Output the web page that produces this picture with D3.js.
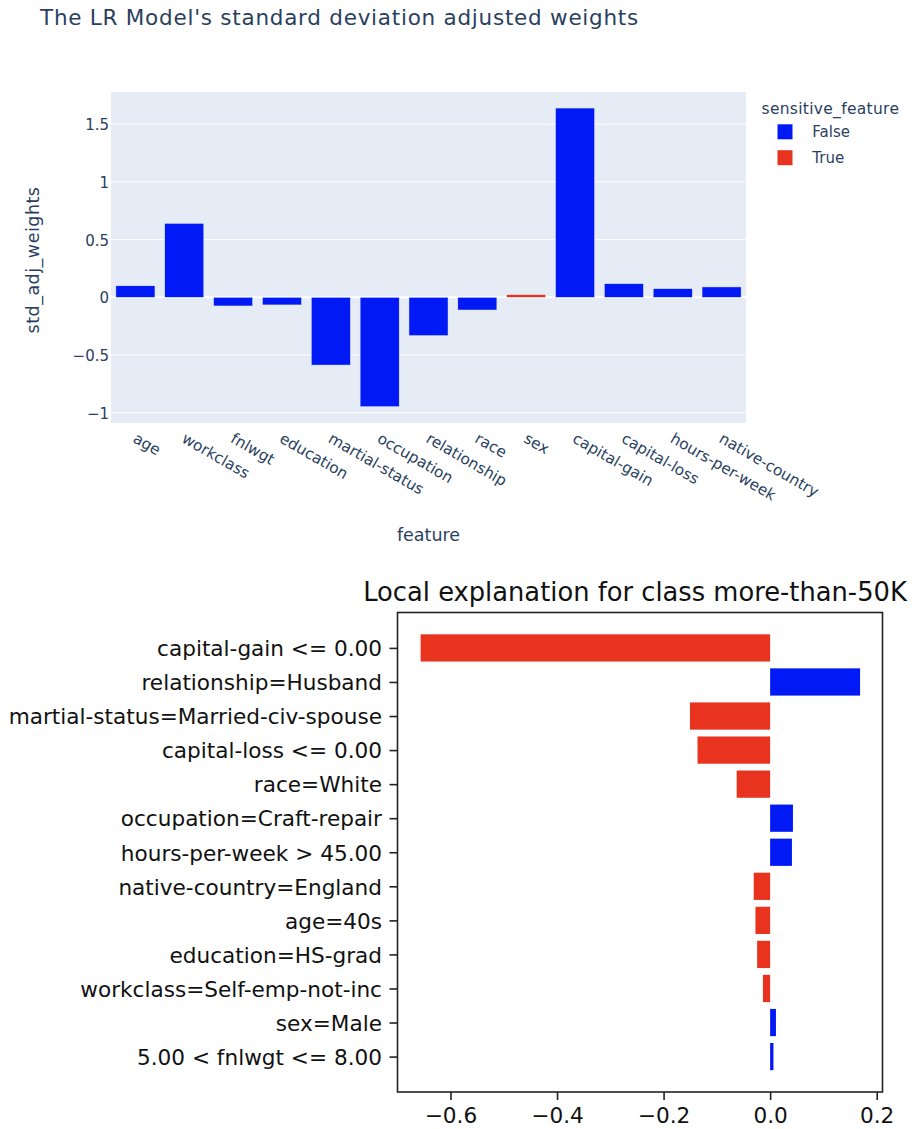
<!DOCTYPE html>
<html>
<head>
<meta charset="utf-8">
<script src="https://cdn.jsdelivr.net/npm/d3@7"></script>
<style>
  html, body { margin: 0; padding: 0; background: #fff; }
  svg { display: block; }
</style>
</head>
<body>
<svg id="chart" width="915" height="1129"></svg>
<script>
// ---------- Top chart data ----------
const features = ["age","workclass","fnlwgt","education","martial-status","occupation","relationship","race","sex","capital-gain","capital-loss","hours-per-week","native-country"];
const stdAdjWeights = [0.100, 0.641, -0.075, -0.066, -0.587, -0.948, -0.332, -0.110, 0.023, 1.640, 0.118, 0.075, 0.090];
const sensitiveFeature = [false, false, false, false, false, false, false, false, true, false, false, false, false];
const yTickValues = [-1, -0.5, 0, 0.5, 1, 1.5];
const yTickLabels = ["\u22121", "\u22120.5", "0", "0.5", "1", "1.5"];
const legendKeys = ["False", "True"];

// ---------- Bottom chart data ----------
const rules = ["capital-gain <= 0.00","relationship=Husband","martial-status=Married-civ-spouse","capital-loss <= 0.00","race=White","occupation=Craft-repair","hours-per-week > 45.00","native-country=England","age=40s","education=HS-grad","workclass=Self-emp-not-inc","sex=Male","5.00 < fnlwgt <= 8.00"];
const contributions = [-0.656, 0.1688, -0.1504, -0.1363, -0.0628, 0.0428, 0.0409, -0.0308, -0.0276, -0.0244, -0.0135, 0.0109, 0.0062];
const xTickValues = [-0.6, -0.4, -0.2, 0.0, 0.2];
const xTickLabels = ["\u22120.6", "\u22120.4", "\u22120.2", "0.0", "0.2"];

const BLUE = "#0019f5";
const RED = "#e8331f";
const PLOTLY_TEXT = "#2a3f5f";
const PF = "'DejaVu Sans', Verdana, sans-serif";

const svg = d3.select("#chart");

// ================= TOP CHART (plotly style) =================
const topBox = { left: 111, right: 746, top: 92, bottom: 423 };
svg.append("text")
  .attr("x", 40).attr("y", 25)
  .attr("font-family", PF).attr("font-size", 21.5)
  .attr("letter-spacing", 0.75)
  .attr("fill", PLOTLY_TEXT)
  .text("The LR Model's standard deviation adjusted weights");

const x1 = d3.scaleBand().domain(features).range([topBox.left, topBox.right]).paddingInner(0.2).paddingOuter(0.1);
const y1 = d3.scaleLinear().domain([-1.089, 1.779]).range([topBox.bottom, topBox.top]);

svg.append("rect")
  .attr("x", topBox.left).attr("y", topBox.top)
  .attr("width", topBox.right - topBox.left).attr("height", topBox.bottom - topBox.top)
  .attr("fill", "#e5ecf6");

// gridlines
svg.append("g").selectAll("line").data(yTickValues.filter(d => d !== 0)).join("line")
  .attr("x1", topBox.left).attr("x2", topBox.right)
  .attr("y1", d => y1(d)).attr("y2", d => y1(d))
  .attr("stroke", "#fff").attr("stroke-width", 1);
svg.append("line")
  .attr("x1", topBox.left).attr("x2", topBox.right)
  .attr("y1", y1(0)).attr("y2", y1(0))
  .attr("stroke", "#fff").attr("stroke-width", 2);

// bars
const topData = features.map((f, i) => ({ f, v: stdAdjWeights[i], s: sensitiveFeature[i] }));
svg.append("g").selectAll("rect").data(topData).join("rect")
  .attr("x", d => x1(d.f))
  .attr("width", x1.bandwidth())
  .attr("y", d => y1(Math.max(0, d.v)))
  .attr("height", d => Math.abs(y1(d.v) - y1(0)))
  .attr("fill", d => d.s ? RED : BLUE)
  .attr("stroke", "#e5ecf6").attr("stroke-width", 0.5);

// y axis
const yAxis1 = d3.axisLeft(y1).tickValues(yTickValues).tickSize(0).tickPadding(0)
  .tickFormat((d, i) => yTickLabels[i]);
const gy1 = svg.append("g").attr("transform", `translate(${topBox.left - 2},0)`).call(yAxis1);
gy1.select(".domain").remove();
gy1.selectAll("text").attr("font-family", PF).attr("font-size", 15).attr("fill", PLOTLY_TEXT).attr("dy", "0.36em");

// x axis (rotated labels)
const xAxis1 = d3.axisBottom(x1).tickSize(0).tickPadding(0);
const gx1 = svg.append("g").attr("transform", `translate(0,${topBox.bottom})`).call(xAxis1);
gx1.select(".domain").remove();
gx1.selectAll("text")
  .attr("font-family", PF).attr("font-size", 15.3).attr("fill", PLOTLY_TEXT)
  .attr("text-anchor", "start")
  .attr("y", 0).attr("dy", 0)
  .attr("transform", "translate(2,9) rotate(30) translate(0,11)");

// axis titles
svg.append("text")
  .attr("x", (topBox.left + topBox.right) / 2).attr("y", 541)
  .attr("text-anchor", "middle")
  .attr("font-family", PF).attr("font-size", 17.5).attr("fill", PLOTLY_TEXT)
  .text("feature");
svg.append("text")
  .attr("transform", `translate(39,260) rotate(-90)`)
  .attr("text-anchor", "middle")
  .attr("font-family", PF).attr("font-size", 17.5).attr("letter-spacing", 0.5).attr("fill", PLOTLY_TEXT)
  .text("std_adj_weights");

// legend
const leg = svg.append("g");
leg.append("text")
  .attr("x", 761.5).attr("y", 113.5)
  .attr("font-family", PF).attr("font-size", 15.5).attr("letter-spacing", 0.3).attr("fill", PLOTLY_TEXT)
  .text("sensitive_feature");
const legItems = leg.selectAll("g.item").data(legendKeys).join("g")
  .attr("class", "item")
  .attr("transform", (d, i) => `translate(0,${131.8 + i * 25.9})`);
legItems.append("rect")
  .attr("x", 777.5).attr("y", -7.5).attr("width", 15).attr("height", 15)
  .attr("fill", d => d === "True" ? RED : BLUE);
legItems.append("text")
  .attr("x", 812.3).attr("y", 0).attr("dy", "0.36em")
  .attr("font-family", PF).attr("font-size", 15).attr("fill", PLOTLY_TEXT)
  .text(d => d);

// ================= BOTTOM CHART (matplotlib style) =================
const bot = { left: 397.5, right: 882.5, top: 612.5, bottom: 1092 };
const MF = "'DejaVu Sans', sans-serif";

const x2 = d3.scaleLinear().domain([-0.6994, 0.2109]).range([bot.left, bot.right]);
const y2 = d3.scaleLinear().domain([-1.04, rules.length - 1 + 1.04]).range([bot.top, bot.bottom]);
const barH = Math.abs(y2(0.8) - y2(0));

const botData = rules.map((r, i) => ({ r, v: contributions[i], i }));
svg.append("g").selectAll("rect").data(botData).join("rect")
  .attr("x", d => x2(Math.min(0, d.v)))
  .attr("width", d => Math.abs(x2(d.v) - x2(0)))
  .attr("y", d => y2(d.i) - barH / 2)
  .attr("height", barH)
  .attr("fill", d => d.v > 0 ? BLUE : RED);

// frame
svg.append("rect")
  .attr("x", bot.left).attr("y", bot.top)
  .attr("width", bot.right - bot.left).attr("height", bot.bottom - bot.top)
  .attr("fill", "none").attr("stroke", "#222").attr("stroke-width", 1.6);

// y axis
const yAxis2 = d3.axisLeft(y2).tickValues(d3.range(rules.length)).tickSize(8).tickPadding(7.5)
  .tickFormat(i => rules[i]);
const gy2 = svg.append("g").attr("transform", `translate(${bot.left},0)`).call(yAxis2);
gy2.select(".domain").remove();
gy2.selectAll("line").attr("stroke", "#222").attr("stroke-width", 1.6);
gy2.selectAll("text").attr("font-family", MF).attr("font-size", 21.6).attr("fill", "#111").attr("dy", "0.36em");

// x axis
const xAxis2 = d3.axisBottom(x2).tickValues(xTickValues).tickSize(8).tickPadding(6.5)
  .tickFormat((d, i) => xTickLabels[i]);
const gx2 = svg.append("g").attr("transform", `translate(0,${bot.bottom})`).call(xAxis2);
gx2.select(".domain").remove();
gx2.selectAll("line").attr("stroke", "#222").attr("stroke-width", 1.6);
gx2.selectAll("text").attr("font-family", MF).attr("font-size", 21.6).attr("fill", "#111").attr("dy", "0.75em");

// title (fitted to the reference's title span)
const botTitle = svg.append("text")
  .attr("x", 635).attr("y", 601)
  .attr("text-anchor", "middle")
  .attr("font-family", MF).attr("font-size", 25).attr("fill", "#111")
  .text("Local explanation for class more-than-50K");
const tw = botTitle.node().getComputedTextLength();
if (tw > 0) botTitle.attr("font-size", 25 * 544 / tw);
</script>
</body>
</html>
